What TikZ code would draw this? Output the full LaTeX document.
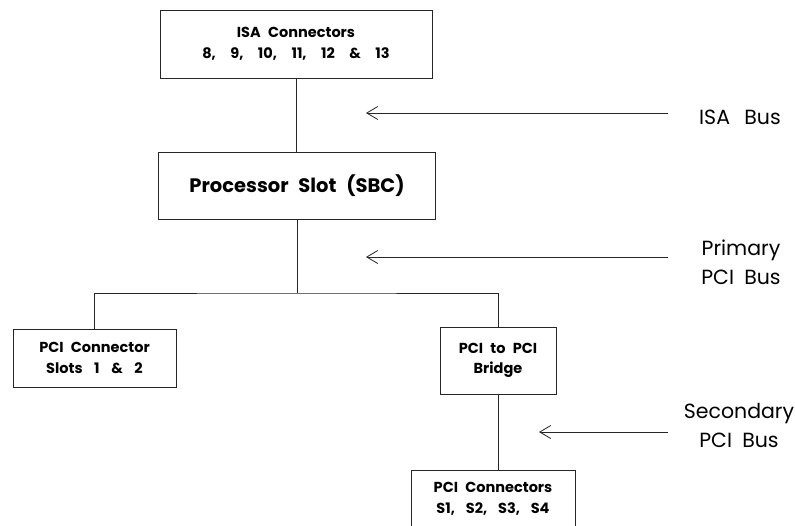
\documentclass[tikz,border=0pt]{standalone}
\usepackage{fontspec}
\setmainfont{Poppins}
\newcommand{\wsp}{\hspace{0.5em}}
\newcommand{\nsp}{\hspace{1em}}
\usetikzlibrary{arrows.meta}
\begin{document}
\begin{tikzpicture}[x=1pt,y=-1pt,
    box/.style={draw=black!85,line width=0.9pt,rectangle,align=center,inner sep=0pt,
      font=\bfseries\fontsize{14.5}{20.5}\selectfont},
    buslabel/.style={align=center,font=\fontsize{20.5}{29}\selectfont},
    busarrow/.style={draw=black!85,line width=0.8pt,-{Straight Barb[length=11pt,width=13pt]}},
    link/.style={draw=black!85,line width=0.9pt}]
    \useasboundingbox (0,0) rectangle (795,525);
    %boxes
    \node[box,minimum width=272pt,minimum height=68pt] (isa) at (296,44)
      {ISA\wsp Connectors\\8,\nsp 9,\nsp 10,\nsp 11,\nsp 12\nsp \&\nsp 13};
    \node[box,minimum width=277pt,minimum height=67pt,font=\bfseries\fontsize{19.5}{24}\selectfont] (proc) at (297,185.5)
      {Processor\wsp Slot\wsp (SBC)};
    \node[box,minimum width=163pt,minimum height=58pt] (pcicon) at (94.5,358)
      {PCI\wsp Connector\\Slots\hspace{0.8em}1\hspace{0.8em}\&\hspace{0.8em}2};
    \node[box,minimum width=116pt,minimum height=67pt] (bridge) at (498,360.5)
      {PCI\wsp to\wsp PCI\\Bridge};
    \node[box,minimum width=164pt,minimum height=58pt] (slots) at (493,499)
      {PCI\wsp Connectors\\S1,\hspace{0.75em}S2,\hspace{0.75em}S3,\hspace{0.75em}S4};
    %connectors
    \coordinate (split) at (297,293);
    \draw[link] (isa.south) -- (isa.south |- proc.north);
    \draw[link] (proc.south) -- (split);
    \draw[link] (pcicon.north) |- (split) -| (bridge.north);
    \draw[link] (bridge.south) -- (bridge.south |- slots.north);
    %buses
    \node[buslabel] (isabus) at (740,117) {ISA\hspace{0.7em}Bus};
    \node[buslabel] (pribus) at (741,262) {Primary\\PCI\wsp Bus};
    \node[buslabel] (secbus) at (739,426) {Secondary\\PCI\wsp Bus};
    \coordinate (isatail) at (668,113);
    \coordinate (isatip) at (366,113);
    \coordinate (pritail) at (668,257);
    \coordinate (pritip) at (366,257);
    \coordinate (sectail) at (668,432);
    \coordinate (sectip) at (539,432);
    \draw[busarrow] (isatail) -- (isatip);
    \draw[busarrow] (pritail) -- (pritip);
    \draw[busarrow] (sectail) -- (sectip);
\end{tikzpicture}
\end{document}
